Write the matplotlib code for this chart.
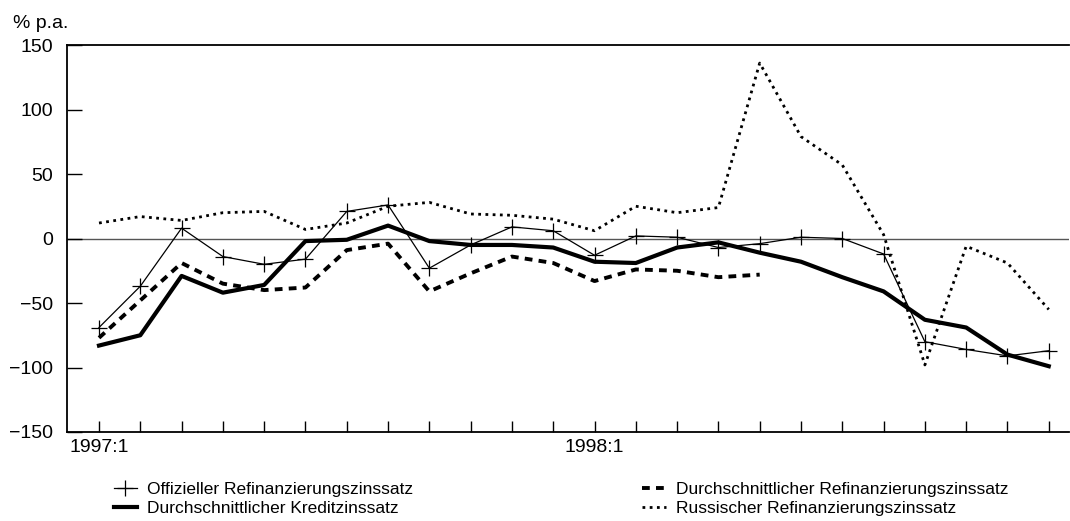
import numpy as np
import matplotlib
matplotlib.use("Agg")
import matplotlib.pyplot as plt

plt.rcParams['font.family'] = ['Liberation Sans', 'DejaVu Sans']

# Monthly values 1997:1 - 1998:12 (% p.a.)
months = np.arange(24)
tickLabels = {0: "1997:1", 12: "1998:1"}
offiziell = [-69, -37, 8, -14, -20, -16, 21, 26, -23, -5, 9, 6, -13, 2, 1, -7,
             -4, 1, 0, -12, -80, -86, -91, -87]
kredit = [-83, -75, -29, -42, -36, -2, -1, 10, -2, -5, -5, -7, -18, -19, -7, -3,
          -11, -18, -30, -41, -63, -69, -90, -99]
durchschnRefi = [-77, -48, -19, -35, -40, -38, -9, -4, -41, -27, -14, -19, -33,
                 -24, -25, -30, -28]
russisch = [12, 17, 14, 20, 21, 7, 12, 25, 28, 19, 18, 15, 6, 25, 20, 24, 136,
            79, 57, 3, -98, -6, -19, -55]

fig = plt.figure(figsize=(10.7, 5.21), dpi=100)
ax = fig.add_axes([67 / 1070, 1 - 432 / 521, 1002 / 1070, 387 / 521])

ax.axhline(0, color="#555555", linewidth=1.0, zorder=1)
ax.plot(months, offiziell, color="black", linewidth=0.9, marker="+",
        markersize=11, markeredgewidth=0.9, label="Offizieller Refinanzierungszinssatz")
ax.plot(months, kredit, color="black", linewidth=3.0, solid_joinstyle="round",
        label="Durchschnittlicher Kreditzinssatz")
ax.plot(months[:len(durchschnRefi)], durchschnRefi, color="black", linewidth=2.8,
        dashes=(2.0, 1.6), label="Durchschnittlicher Refinanzierungszinssatz")
ax.plot(months, russisch, color="black", linewidth=2.0, dashes=(1.0, 1.6),
        label="Russischer Refinanzierungszinssatz")

ax.set_xlim(-0.775, 23.49)
ax.set_ylim(-150, 150)
ax.set_yticks([-150, -100, -50, 0, 50, 100, 150])
ax.set_xticks(months)
ax.set_xticklabels([tickLabels.get(m, "") for m in months])
ax.tick_params(axis="y", direction="in", length=11, width=1, labelsize=14, pad=10)
ax.tick_params(axis="x", direction="in", length=8, width=1, labelsize=14, pad=5)
ax.spines["right"].set_visible(False)
for s in ["left", "top", "bottom"]:
    ax.spines[s].set_linewidth(1.3)

fig.text(13 / 1070, 1 - 23 / 521, "% p.a.", fontsize=14, va="center", ha="left")

fig.legend(loc="upper left", bbox_to_anchor=(98 / 1070, 1 - 466 / 521), ncol=2,
           frameon=False, fontsize=12.5, handlelength=1.35, columnspacing=13.2,
           labelspacing=0.25, handletextpad=0.58)

fig.savefig("out.png", dpi=100)
